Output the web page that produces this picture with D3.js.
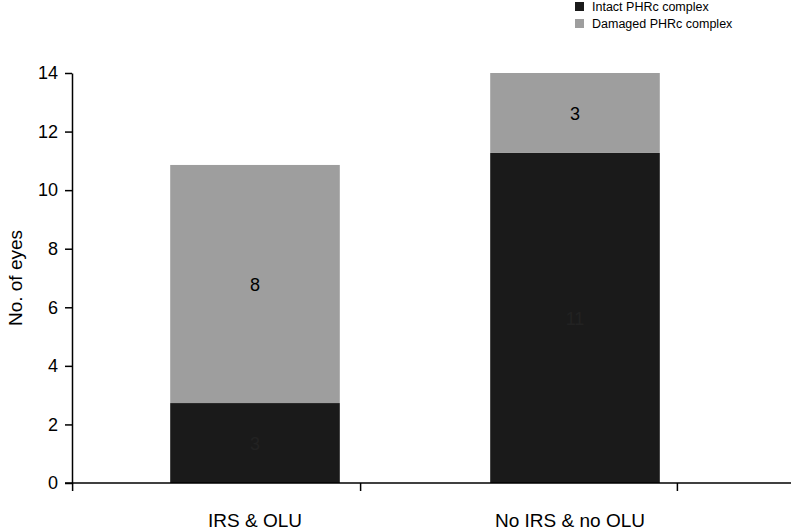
<!DOCTYPE html><html><head><meta charset="utf-8"><script src="https://cdn.jsdelivr.net/npm/d3@7"></script>
<style>body{margin:0;background:#fff}text{font-family:"Liberation Sans",Arial,sans-serif}</style></head><body>
<svg id="c" width="791" height="531"></svg>
<script>
const categories=["IRS & OLU","No IRS & no OLU"];
const intact=[2.73,11.27];
const damaged=[8.13,2.73];
const intactLabels=["3","11"];
const damagedLabels=["8","3"];
const seriesNames=["Intact PHRc complex","Damaged PHRc complex"];
const colors=["#1a1a1a","#9e9e9e"];
const yTicks=[0,2,4,6,8,10,12,14];
const xTickPos=[-0.07,0.83,1.82];
const svg=d3.select("#c");
const y=d3.scaleLinear().domain([0,14]).range([483,73]);
const x=d3.scaleBand().domain(categories).range([95,735]).paddingInner(0.47).paddingOuter(0.235);
const xl=d3.scaleLinear().domain([0,1]).range([95,415]);
categories.forEach((c,i)=>{
  const x0=x(c),w=x.bandwidth();
  svg.append("rect").attr("x",x0).attr("width",w).attr("y",y(intact[i])).attr("height",y(0)-y(intact[i])).attr("fill",colors[0]);
  svg.append("rect").attr("x",x0).attr("width",w).attr("y",y(intact[i]+damaged[i])).attr("height",y(intact[i])-y(intact[i]+damaged[i])).attr("fill",colors[1]);
  svg.append("text").attr("x",x0+w/2).attr("y",y(intact[i]/2)+7).attr("text-anchor","middle").attr("font-size",18).attr("fill","#222").text(intactLabels[i]);
  svg.append("text").attr("x",x0+w/2).attr("y",y(intact[i]+damaged[i]/2)+7).attr("text-anchor","middle").attr("font-size",18).attr("fill","#000").text(damagedLabels[i]);
  svg.append("text").attr("x",x0+w/2-60*i+ (i?55:0)).attr("y",527).attr("text-anchor","middle").attr("font-size",19).text(c);
});
const ya=svg.append("g").attr("transform","translate(72,0)").call(d3.axisLeft(y).tickValues(yTicks).tickSize(7).tickSizeOuter(0));
ya.select(".domain").attr("stroke","#000").attr("stroke-width",1.5);
ya.selectAll("line").attr("stroke-width",1.5);
ya.selectAll("text").attr("font-size",18).attr("font-family","Liberation Sans, Arial").attr("dx",-4);
svg.append("line").attr("x1",65).attr("x2",791).attr("y1",483).attr("y2",483).attr("stroke","#000").attr("stroke-width",1.5);
xTickPos.forEach(t=>svg.append("line").attr("x1",xl(t)).attr("x2",xl(t)).attr("y1",483).attr("y2",491).attr("stroke","#000").attr("stroke-width",1.5));
svg.append("text").attr("transform","translate(22,278) rotate(-90)").attr("text-anchor","middle").attr("font-size",19).text("No. of eyes");
seriesNames.forEach((n,i)=>{
  svg.append("rect").attr("x",575).attr("y",2+i*17).attr("width",9).attr("height",9).attr("fill",colors[i]);
  svg.append("text").attr("x",592).attr("y",11+i*17).attr("font-size",12.5).text(n);
});
</script></body></html>
